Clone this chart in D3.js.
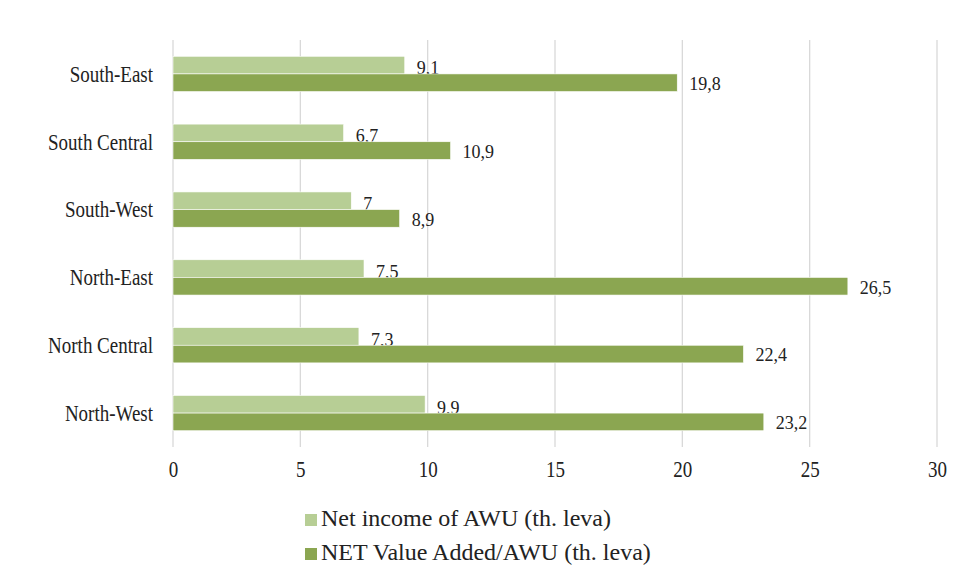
<!DOCTYPE html>
<html>
<head>
<meta charset="utf-8">
<script src="https://cdn.jsdelivr.net/npm/d3@7"></script>
<style>
  body { margin: 0; background: #fff; }
</style>
</head>
<body>
<div id="chart"></div>
<script>
(function(){
    var regions = ["South-East", "South Central", "South-West", "North-East", "North Central", "North-West"];
    var netIncome = [9.1, 6.7, 7, 7.5, 7.3, 9.9];
    var netValueAdded = [19.8, 10.9, 8.9, 26.5, 22.4, 23.2];
    var seriesNames = ["Net income of AWU (th. leva)", "NET Value Added/AWU (th. leva)"];
    var xTicks = [0, 5, 10, 15, 20, 25, 30];

    var width = 953;
    var height = 581;
    var colors = ["#b7ce95", "#8ba651"];
    var serif = "Liberation Serif";

    var svg = d3.select("#chart")
        .append("svg")
        .attr("width", width)
        .attr("height", height)
        .attr("font-family", serif)

    var x = d3.scaleLinear().domain([0, 30]).range([173, 937])
    var y = d3.scaleBand().domain(regions).range([40, 447])
        .paddingInner(0.48).paddingOuter(0.24)
    var sub = d3.scaleBand().domain([0, 1]).range([0, y.bandwidth()])

    // gridlines
    svg.append("g")
        .selectAll("line")
        .data(xTicks)
        .enter().append("line")
        .attr("x1", function(d){ return x(d) })
        .attr("x2", function(d){ return x(d) })
        .attr("y1", 40)
        .attr("y2", 447)
        .attr("stroke", "#d9d9d9")
        .attr("stroke-width", 1.3)

    // axis labels look a bit taller than wide in the original, hence the scale
    var xAxis = svg.append("g")
        .attr("transform", "translate(0,447)")
        .call(d3.axisBottom(x).tickValues(xTicks).tickSize(0))
    xAxis.attr("font-family", serif).attr("font-size", 19)
    xAxis.select(".domain").remove()
    xAxis.selectAll("text")
        .attr("fill", "#222")
        .attr("y", 0)
        .attr("dy", null)
        .attr("transform", "translate(0,30) scale(1,1.2)")

    var yAxis = svg.append("g")
        .attr("transform", "translate(153,0)")
        .call(d3.axisLeft(y).tickSize(0).tickPadding(0))
    yAxis.attr("font-family", serif).attr("font-size", 19)
    yAxis.select(".domain").remove()
    yAxis.selectAll("text")
        .attr("fill", "#222")
        .attr("dy", "0.34em")
        .attr("transform", "scale(1,1.2)")

    var series = [netIncome, netValueAdded]
    var labelShift = [3, 1]
    var fmt = function(v){ return String(v).replace(".", ",") }

    series.forEach(function(vals, si){
        var g = svg.append("g")
        g.selectAll("rect")
            .data(vals)
            .enter().append("rect")
            .attr("x", x(0))
            .attr("y", function(d, i){ return y(regions[i]) + sub(si) })
            .attr("width", function(d){ return x(d) - x(0) })
            .attr("height", sub.bandwidth())
            .attr("fill", colors[si])
            .attr("stroke", "#fff")
            .attr("stroke-width", 0.6)
        g.selectAll("text")
            .data(vals)
            .enter().append("text")
            .attr("x", function(d){ return x(d) + 12 })
            .attr("y", function(d, i){ return y(regions[i]) + sub(si) + sub.bandwidth() / 2 + labelShift[si] })
            .attr("dy", "0.35em")
            .attr("font-size", 18)
            .attr("fill", "#222")
            .text(fmt)
    })

    // legend
    var legend = svg.append("g")
        .selectAll("g")
        .data(seriesNames)
        .enter().append("g")
        .attr("transform", function(d, i){ return "translate(305," + (514 + i * 34) + ")" })
    legend.append("rect")
        .attr("width", 12)
        .attr("height", 12)
        .attr("fill", function(d, i){ return colors[i] })
    legend.append("text")
        .attr("x", 16)
        .attr("y", 12)
        .attr("font-size", 24)
        .attr("fill", "#222")
        .text(function(d){ return d })
})();
</script>
</body>
</html>
